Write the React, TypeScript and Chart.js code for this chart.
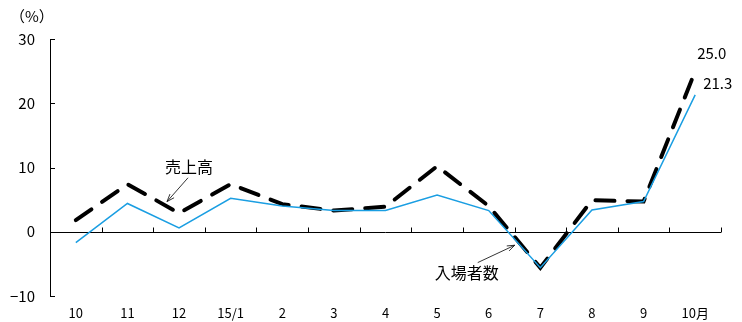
import React, { useEffect, useRef } from 'react';
import { Chart, registerables } from 'chart.js';

Chart.register(...registerables);

const categories = ['10', '11', '12', '15/1', '2', '3', '4', '5', '6', '7', '8', '9', '10月'];
const salesValues = [1.8, 7.4, 2.9, 7.4, 4.3, 3.3, 3.9, 10.2, 4.0, -5.6, 4.9, 4.7, 25.0];
const visitorValues = [-1.7, 4.4, 0.6, 5.2, 4.0, 3.3, 3.3, 5.7, 3.3, -5.6, 3.4, 4.7, 21.3];
const seriesNames = ['売上高', '入場者数'];
const yMin = -10;
const yMax = 30;
const yStep = 10;
const unitLabel = '（%）';

const FONT = '"Noto Sans CJK JP", "Noto Sans", sans-serif';
const BLUE = '#1a9ee2';

function arrow(ctx: CanvasRenderingContext2D, x1: number, y1: number, x2: number, y2: number) {
  ctx.save();
  ctx.strokeStyle = '#000';
  ctx.lineWidth = 0.8;
  ctx.beginPath();
  ctx.moveTo(x1, y1);
  ctx.lineTo(x2, y2);
  const a = Math.atan2(y2 - y1, x2 - x1);
  const L = 8;
  const w = 0.35;
  ctx.moveTo(x2 - L * Math.cos(a - w), y2 - L * Math.sin(a - w));
  ctx.lineTo(x2, y2);
  ctx.lineTo(x2 - L * Math.cos(a + w), y2 - L * Math.sin(a + w));
  ctx.stroke();
  ctx.restore();
}

const decorPlugin = {
  id: 'decor',
  beforeDatasetsDraw(chart: any) {
    const ctx = chart.ctx as CanvasRenderingContext2D;
    const ys = chart.scales.y;
    const area = chart.chartArea;
    ctx.save();
    ctx.strokeStyle = '#000';
    ctx.lineWidth = 1;
    ctx.beginPath();
    ctx.moveTo(area.left + 0.5, ys.getPixelForValue(yMax));
    ctx.lineTo(area.left + 0.5, ys.getPixelForValue(yMin));
    ctx.stroke();
    for (let v = yMin; v <= yMax; v += yStep) {
      const y = Math.round(ys.getPixelForValue(v)) + 0.5;
      ctx.beginPath();
      ctx.moveTo(area.left, y);
      ctx.lineTo(area.left + 5, y);
      ctx.stroke();
    }
    const y0 = Math.round(ys.getPixelForValue(0)) + 0.5;
    ctx.beginPath();
    ctx.moveTo(area.left, y0);
    ctx.lineTo(area.right, y0);
    ctx.stroke();
    const n = categories.length;
    const w = (area.right - area.left) / n;
    for (let i = 1; i <= n; i++) {
      const x = Math.round(area.left + i * w) + 0.5;
      ctx.beginPath();
      ctx.moveTo(x, y0);
      ctx.lineTo(x, y0 - 5);
      ctx.stroke();
    }
    ctx.restore();
  },
  afterDatasetsDraw(chart: any) {
    const ctx = chart.ctx as CanvasRenderingContext2D;
    const xs = chart.scales.x;
    const ys = chart.scales.y;
    ctx.save();
    ctx.fillStyle = '#000';
    ctx.font = `15px ${FONT}`;
    ctx.textAlign = 'left';
    ctx.textBaseline = 'middle';
    ctx.fillText(unitLabel, 10, 16);
    const last = categories.length - 1;
    const lx = xs.getPixelForValue(last);
    ctx.font = `15px ${FONT}`;
    ctx.fillText(salesValues[last].toFixed(1), lx + 2, ys.getPixelForValue(salesValues[last]) - 18);
    ctx.fillText(visitorValues[last].toFixed(1), lx + 8, ys.getPixelForValue(visitorValues[last]) - 12);
    ctx.font = `16px ${FONT}`;
    ctx.textAlign = 'center';
    const sx = xs.getPixelForValue(2);
    ctx.fillText(seriesNames[0], sx + 10, ys.getPixelForValue(10) - 1);
    arrow(ctx, sx + 9, ys.getPixelForValue(8.4), sx - 12, ys.getPixelForValue(4.7));
    const vx = xs.getPixelForValue(8);
    ctx.fillText(seriesNames[1], vx - 22, ys.getPixelForValue(-6.4));
    arrow(ctx, vx - 11, ys.getPixelForValue(-4.8), vx + 26, ys.getPixelForValue(-2.1));
    ctx.restore();
  },
};

export default function App() {
  const ref = useRef<HTMLCanvasElement>(null);
  useEffect(() => {
    document.body.style.margin = '0';
    const chart = new Chart(ref.current!, {
      type: 'line',
      data: {
        labels: categories,
        datasets: [
          {
            label: seriesNames[1],
            data: visitorValues,
            borderColor: BLUE,
            borderWidth: 1.5,
            pointRadius: 0,
            tension: 0,
            fill: false,
          },
          {
            label: seriesNames[0],
            data: salesValues,
            borderColor: '#000',
            borderWidth: 4,
            borderDash: [19, 13],
            borderCapStyle: 'round',
            pointRadius: 0,
            tension: 0,
            fill: false,
          },
        ],
      },
      options: {
        responsive: false,
        animation: false,
        layout: { padding: { top: 39, right: 21, left: 0, bottom: 0 } },
        plugins: { legend: { display: false }, tooltip: { enabled: false } },
        scales: {
          x: {
            offset: true,
            grid: { display: false, drawTicks: false },
            border: { display: false },
            ticks: {
              color: '#000',
              font: { size: 13, family: FONT },
              padding: 9,
              maxRotation: 0,
              autoSkip: false,
            },
            afterFit: (s: any) => { s.height = 26; },
          },
          y: {
            min: yMin,
            max: yMax,
            grid: { display: false, drawTicks: false },
            border: { display: false },
            ticks: {
              stepSize: yStep,
              color: '#000',
              font: { size: 15, family: FONT },
              padding: 15,
              callback: (v: any) => String(v).replace('-', '−'),
            },
            afterFit: (s: any) => { s.width = 50; },
          },
        },
      },
      plugins: [decorPlugin],
    });
    return () => chart.destroy();
  }, []);
  return (
    <div style={{ width: 742, height: 322 }}>
      <canvas ref={ref} width={742} height={322} />
    </div>
  );
}
